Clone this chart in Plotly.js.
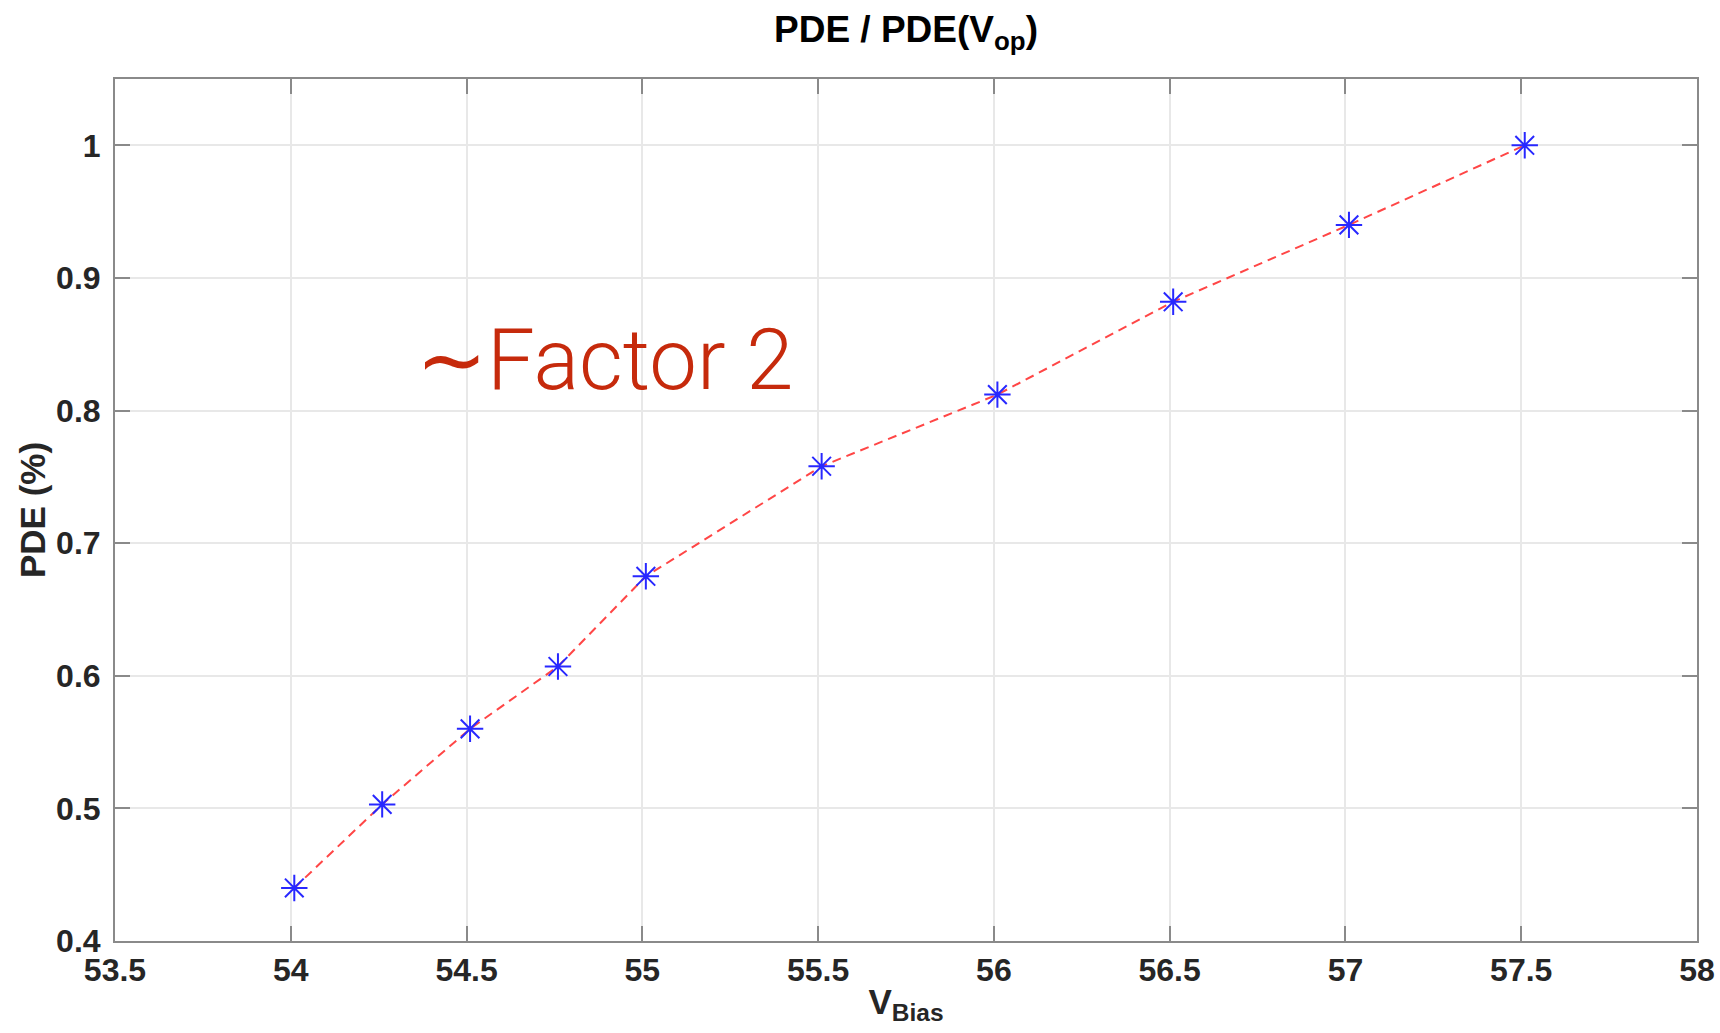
<!DOCTYPE html>
<html>
<head>
<meta charset="utf-8">
<script src="https://cdn.plot.ly/plotly-3.0.1.min.js"></script>
<style>html,body{margin:0;padding:0;background:#fff;}#chart{width:1720px;height:1033px;}</style>
</head>
<body>
<div id="chart"></div>
<script>
const vBias = [54.01, 54.26, 54.51, 54.76, 55.01, 55.51, 56.01, 56.51, 57.01, 57.51];
const pdeRatio = [0.440, 0.503, 0.560, 0.607, 0.675, 0.758, 0.812, 0.882, 0.940, 1.000];
const xTicks = [53.5, 54, 54.5, 55, 55.5, 56, 56.5, 57, 57.5, 58];
const yTicks = [0.4, 0.5, 0.6, 0.7, 0.8, 0.9, 1];
const yTickLabels = ['0.4', '0.5', '0.6', '0.7', '0.8', '0.9', '1'];
const titleText = 'PDE / PDE(V<sub>op</sub>)';
const xTitle = 'V<sub>Bias</sub>';
const yTitle = 'PDE (%)';
const noteText = '\u223CFactor 2';

const tickFont = {family: 'Liberation Sans, Arial, sans-serif', size: 32, color: '#262626', weight: 'bold'};

const traces = [
  {
    x: vBias, y: pdeRatio, type: 'scatter', mode: 'lines',
    line: {color: 'rgb(255,70,70)', width: 2, dash: '9px,6px'},
    hoverinfo: 'skip', showlegend: false
  },
  {
    x: vBias, y: pdeRatio, type: 'scatter', mode: 'markers',
    marker: {symbol: 'asterisk-open', size: 22, color: 'rgb(40,40,255)', line: {color: 'rgb(40,40,255)', width: 2}},
    showlegend: false
  }
];

const axisCommon = {
  showline: true, linecolor: '#8a8a8a', linewidth: 2, mirror: 'ticks',
  ticks: 'inside', ticklen: 15, tickwidth: 2, tickcolor: '#8a8a8a',
  showgrid: true, gridcolor: '#e8e8e8', gridwidth: 2,
  zeroline: false, tickfont: tickFont
};

const layout = {
  width: 1720, height: 1033,
  paper_bgcolor: '#fff', plot_bgcolor: '#fff',
  margin: {l: 115, r: 23, t: 79, b: 92},
  title: {text: '<b>' + titleText + '</b>', x: 0.5, xref: 'paper', xanchor: 'center', y: 0.972, yanchor: 'middle', yref: 'container',
    font: {family: 'Liberation Sans, Arial, sans-serif', size: 37, color: '#000'}},
  xaxis: Object.assign({}, axisCommon, {
    range: [53.5, 58], tickvals: xTicks, ticktext: xTicks.map(String),
    ticklabelstandoff: 0,
    title: {text: '<b>' + xTitle + '</b>', standoff: 2, font: {family: 'Liberation Sans, Arial, sans-serif', size: 35, color: '#262626'}}
  }),
  yaxis: Object.assign({}, axisCommon, {
    range: [0.4, 1.05], tickvals: yTicks, ticktext: yTickLabels,
    ticklabelstandoff: 6,
    title: {text: '<b>' + yTitle + '</b>', standoff: 0, font: {family: 'Liberation Sans, Arial, sans-serif', size: 35, color: '#262626'}}
  }),
  annotations: [{
    x: 54.35, y: 0.838, xref: 'x', yref: 'y', xanchor: 'left', yanchor: 'middle',
    text: noteText, showarrow: false,
    font: {family: 'Roboto, Lato, sans-serif', size: 85, color: '#c62a0c', weight: 300}
  }]
};

Plotly.newPlot('chart', traces, layout, {displayModeBar: false, staticPlot: true});
</script>
</body>
</html>
